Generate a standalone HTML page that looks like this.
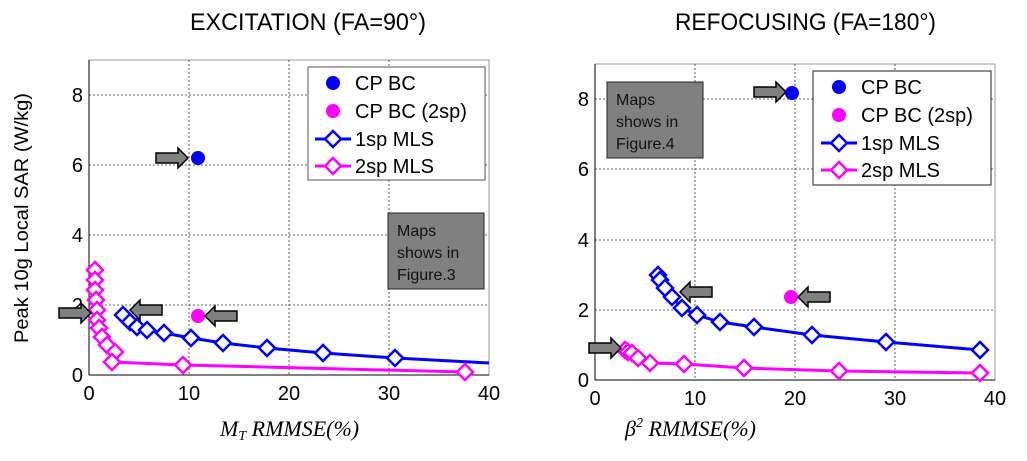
<!DOCTYPE html>
<html><head><meta charset="utf-8"><style>
html,body{margin:0;padding:0;background:#fff;}
svg{display:block;font-family:"Liberation Sans",sans-serif;}
</style></head><body>
<svg width="1027" height="461" viewBox="0 0 1027 461" xmlns="http://www.w3.org/2000/svg">
<defs>
<g id="d"><path d="M0,-8 L8,0 L0,8 L-8,0 Z" fill="#fff" stroke-width="2.5"/></g>
<g id="ar"><path d="M0,-5 L22,-5 L22,-10 L32,0 L22,10 L22,5 L0,5 Z" fill="#808080" stroke="#000" stroke-width="1.5"/></g>
</defs>
<text x="190" y="30" font-size="24" textLength="236" lengthAdjust="spacingAndGlyphs">EXCITATION (FA=90°)</text>
<text x="675" y="30" font-size="24" textLength="261" lengthAdjust="spacingAndGlyphs">REFOCUSING (FA=180°)</text>

<!-- LEFT PLOT -->
<rect x="89" y="60" width="400" height="315" fill="#fff" stroke="#999" stroke-width="1"/>
<g stroke="#333" stroke-width="0.8" stroke-dasharray="2,2">
<line x1="189" y1="60" x2="189" y2="375"/><line x1="289" y1="60" x2="289" y2="375"/><line x1="389" y1="60" x2="389" y2="375"/>
<line x1="89" y1="305" x2="489" y2="305"/><line x1="89" y1="235" x2="489" y2="235"/><line x1="89" y1="165" x2="489" y2="165"/><line x1="89" y1="95" x2="489" y2="95"/>
</g>
<line x1="89" y1="375" x2="489" y2="375" stroke="#000"/><line x1="89" y1="60" x2="89" y2="375" stroke="#000"/>
<g font-size="20" text-anchor="end">
<text x="83" y="382">0</text><text x="83" y="312">2</text><text x="83" y="242">4</text><text x="83" y="172">6</text><text x="83" y="102">8</text>
</g>
<g font-size="20" text-anchor="middle">
<text x="89" y="400">0</text><text x="189" y="400">10</text><text x="289" y="400">20</text><text x="389" y="400">30</text><text x="489" y="400">40</text>
</g>
<text transform="translate(28,218) rotate(-90)" font-size="19" text-anchor="middle" textLength="250" lengthAdjust="spacingAndGlyphs">Peak 10g Local SAR (W/kg)</text>
<text x="220" y="436" font-size="22" font-family="Liberation Serif,serif" font-style="italic">M<tspan font-size="14" dy="4">T</tspan><tspan dy="-4"> RMMSE(%)</tspan></text>

<polyline points="123,315 130,322 137,327 147,330 164,333 191,338 223,343 267,348 323,353 395,358 489,363" fill="none" stroke="#0000ff" stroke-width="3"/>
<g stroke="#0000ff">
<use href="#d" x="123" y="315"/><use href="#d" x="130" y="322"/><use href="#d" x="137" y="327"/><use href="#d" x="147" y="330"/><use href="#d" x="164" y="333"/><use href="#d" x="191" y="338"/><use href="#d" x="223" y="343"/><use href="#d" x="267" y="348"/><use href="#d" x="323" y="353"/><use href="#d" x="395" y="358"/>
</g>
<polyline points="95,270 95,280 95,290 96,300 97,310 97,320 99,328 102,337 107,345 115,352 112,362 183,365 465,372" fill="none" stroke="#ff00ff" stroke-width="3"/>
<g stroke="#ff00ff">
<use href="#d" x="95" y="270"/><use href="#d" x="95" y="280"/><use href="#d" x="95" y="290"/><use href="#d" x="96" y="300"/><use href="#d" x="97" y="310"/><use href="#d" x="97" y="320"/><use href="#d" x="99" y="328"/><use href="#d" x="102" y="337"/><use href="#d" x="107" y="345"/><use href="#d" x="115" y="352"/><use href="#d" x="112" y="362"/><use href="#d" x="183" y="365"/><use href="#d" x="465" y="372"/>
</g>
<circle cx="198" cy="158" r="7" fill="#0000ff"/>
<circle cx="198" cy="316" r="7" fill="#ff00ff"/>
<use href="#ar" x="162" y="158" transform="translate(-6,0)"/>
<use href="#ar" transform="translate(237,316) scale(-1,1)"/>
<use href="#ar" transform="translate(162,310) scale(-1,1)"/>
<use href="#ar" x="59" y="313"/>
<rect x="308" y="67" width="177" height="113" fill="#fff" stroke="#555"/>
<circle cx="333" cy="83" r="7" fill="#0000ff"/>
<circle cx="333" cy="111" r="7" fill="#ff00ff"/>
<line x1="315" y1="139" x2="351" y2="139" stroke="#0000ff" stroke-width="3"/><use href="#d" x="333" y="139" stroke="#0000ff"/>
<line x1="315" y1="166" x2="351" y2="166" stroke="#ff00ff" stroke-width="3"/><use href="#d" x="333" y="166" stroke="#ff00ff"/>
<g font-size="20"><text x="355" y="90">CP BC</text><text x="355" y="118">CP BC (2sp)</text><text x="355" y="146">1sp MLS</text><text x="355" y="173">2sp MLS</text></g>
<rect x="388" y="213" width="96" height="76" fill="#808080" stroke="#222"/>
<g font-size="16" fill="#111"><text x="397" y="236">Maps</text><text x="397" y="258">shows in</text><text x="397" y="280">Figure.3</text></g>

<!-- RIGHT PLOT -->
<rect x="595" y="64" width="400" height="316" fill="#fff" stroke="#999" stroke-width="1"/>
<g stroke="#333" stroke-width="0.8" stroke-dasharray="2,2">
<line x1="695" y1="64" x2="695" y2="380"/><line x1="795" y1="64" x2="795" y2="380"/><line x1="895" y1="64" x2="895" y2="380"/>
<line x1="595" y1="310" x2="995" y2="310"/><line x1="595" y1="240" x2="995" y2="240"/><line x1="595" y1="169" x2="995" y2="169"/><line x1="595" y1="99" x2="995" y2="99"/>
</g>
<line x1="595" y1="380" x2="995" y2="380" stroke="#000"/><line x1="595" y1="64" x2="595" y2="380" stroke="#000"/>
<g font-size="20" text-anchor="end">
<text x="589" y="387">0</text><text x="589" y="317">2</text><text x="589" y="247">4</text><text x="589" y="176">6</text><text x="589" y="106">8</text>
</g>
<g font-size="20" text-anchor="middle">
<text x="595" y="405">0</text><text x="695" y="405">10</text><text x="795" y="405">20</text><text x="895" y="405">30</text><text x="995" y="405">40</text>
</g>
<text x="625" y="436" font-size="22" font-family="Liberation Serif,serif" font-style="italic">β<tspan font-size="14" dy="-9">2</tspan><tspan dy="9"> RMMSE(%)</tspan></text>

<polyline points="658,275 660,280 665,288 672,297 682,308 697,315 720,322 754,327 812,335 886,342 980,350" fill="none" stroke="#0000ff" stroke-width="3"/>
<g stroke="#0000ff">
<use href="#d" x="658" y="275"/><use href="#d" x="660" y="280"/><use href="#d" x="665" y="288"/><use href="#d" x="672" y="297"/><use href="#d" x="682" y="308"/><use href="#d" x="697" y="315"/><use href="#d" x="720" y="322"/><use href="#d" x="754" y="327"/><use href="#d" x="812" y="335"/><use href="#d" x="886" y="342"/><use href="#d" x="980" y="350"/>
</g>
<polyline points="625,350 628,352 632,353 638,358 650,363 684,364 744,368 839,371 980,373" fill="none" stroke="#ff00ff" stroke-width="3"/>
<g stroke="#ff00ff">
<use href="#d" x="625" y="350"/><use href="#d" x="628" y="352"/><use href="#d" x="632" y="353"/><use href="#d" x="638" y="358"/><use href="#d" x="650" y="363"/><use href="#d" x="684" y="364"/><use href="#d" x="744" y="368"/><use href="#d" x="839" y="371"/><use href="#d" x="980" y="373"/>
</g>
<circle cx="792" cy="93" r="7" fill="#0000ff"/>
<circle cx="791" cy="297" r="7" fill="#ff00ff"/>
<use href="#ar" x="760" y="92" transform="translate(-6,0)"/>
<use href="#ar" transform="translate(830,297) scale(-1,1)"/>
<use href="#ar" transform="translate(712,292) scale(-1,1)"/>
<use href="#ar" x="589" y="348"/>
<rect x="813" y="71" width="178" height="114" fill="#fff" stroke="#222"/>
<circle cx="839" cy="87" r="7" fill="#0000ff"/>
<circle cx="839" cy="115" r="7" fill="#ff00ff"/>
<line x1="821" y1="143" x2="857" y2="143" stroke="#0000ff" stroke-width="3"/><use href="#d" x="839" y="143" stroke="#0000ff"/>
<line x1="821" y1="170" x2="857" y2="170" stroke="#ff00ff" stroke-width="3"/><use href="#d" x="839" y="170" stroke="#ff00ff"/>
<g font-size="20"><text x="861" y="94">CP BC</text><text x="861" y="122">CP BC (2sp)</text><text x="861" y="150">1sp MLS</text><text x="861" y="177">2sp MLS</text></g>
<rect x="607" y="82" width="96" height="76" fill="#808080" stroke="#222"/>
<g font-size="16" fill="#111"><text x="616" y="105">Maps</text><text x="616" y="127">shows in</text><text x="616" y="149">Figure.4</text></g>
</svg>
</body></html>
